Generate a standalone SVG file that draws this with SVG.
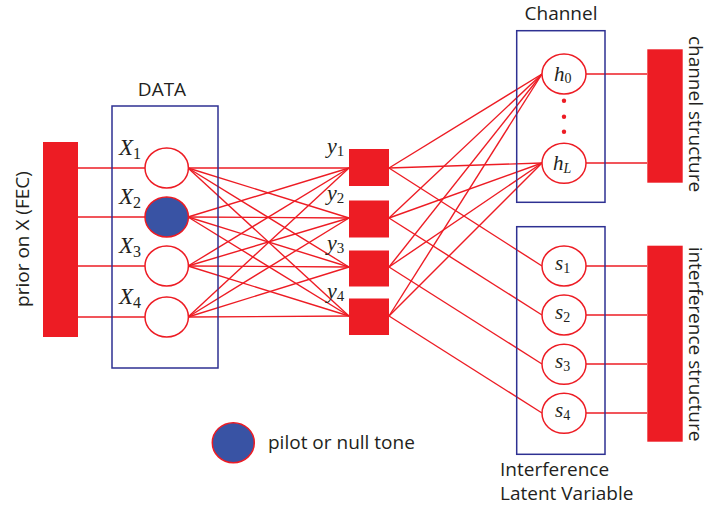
<svg xmlns="http://www.w3.org/2000/svg" width="710" height="510" viewBox="0 0 710 510">
<style>
.bar{fill:#ED1C24}
.box{fill:none;stroke:#2E3192;stroke-width:1.5}
.node{fill:#fff;stroke:#ED1C24;stroke-width:1.5}
.pilot{fill:#3953A4;stroke:#ED1C24;stroke-width:1.5}
.sq{fill:#ED1C24}
.lbl{font-family:"Open Sans","Liberation Sans",sans-serif;font-size:19px;fill:#231F20}
.math{font-family:"Liberation Serif","DejaVu Serif",serif;font-style:italic;fill:#231F20}
.sub{font-style:normal}
#connectors line{stroke:#ED1C24;stroke-width:1.4}
</style>
<rect width="710" height="510" fill="#fff"/>
<g id="connectors">
<line x1="78" y1="168" x2="145" y2="168"/>
<line x1="78" y1="217" x2="145" y2="217"/>
<line x1="78" y1="266" x2="145" y2="266"/>
<line x1="78" y1="317" x2="145" y2="317"/>
<line x1="188" y1="168" x2="349" y2="168"/>
<line x1="188" y1="168" x2="349" y2="218"/>
<line x1="188" y1="168" x2="349" y2="267"/>
<line x1="188" y1="168" x2="349" y2="316"/>
<line x1="188" y1="217" x2="349" y2="168"/>
<line x1="188" y1="217" x2="349" y2="218"/>
<line x1="188" y1="217" x2="349" y2="267"/>
<line x1="188" y1="217" x2="349" y2="316"/>
<line x1="188" y1="266" x2="349" y2="168"/>
<line x1="188" y1="266" x2="349" y2="218"/>
<line x1="188" y1="266" x2="349" y2="267"/>
<line x1="188" y1="266" x2="349" y2="316"/>
<line x1="188" y1="317" x2="349" y2="168"/>
<line x1="188" y1="317" x2="349" y2="218"/>
<line x1="188" y1="317" x2="349" y2="267"/>
<line x1="188" y1="317" x2="349" y2="316"/>
<line x1="389" y1="168" x2="542" y2="74"/>
<line x1="389" y1="168" x2="542" y2="163"/>
<line x1="389" y1="218" x2="542" y2="74"/>
<line x1="389" y1="218" x2="542" y2="163"/>
<line x1="389" y1="267" x2="542" y2="74"/>
<line x1="389" y1="267" x2="542" y2="163"/>
<line x1="389" y1="316" x2="542" y2="74"/>
<line x1="389" y1="316" x2="542" y2="163"/>
<line x1="389" y1="168" x2="542" y2="266"/>
<line x1="389" y1="218" x2="542" y2="315"/>
<line x1="389" y1="267" x2="542" y2="364"/>
<line x1="389" y1="316" x2="542" y2="413"/>
<line x1="586" y1="74" x2="647" y2="74"/>
<line x1="586" y1="163" x2="647" y2="163"/>
<line x1="586" y1="266" x2="647" y2="266"/>
<line x1="586" y1="315" x2="647" y2="315"/>
<line x1="586" y1="364" x2="647" y2="364"/>
<line x1="586" y1="413" x2="647" y2="413"/>
</g>
<g id="prior">
<rect class="bar" x="43" y="142" width="35" height="195"/>
<text class="lbl" transform="translate(29,239) rotate(-90)" text-anchor="middle">prior on X (FEC)</text>
</g>
<g id="data">
<rect class="box" x="112" y="106" width="106" height="262"/>
<text class="lbl" x="162" y="96" text-anchor="middle">DATA</text>
</g>
<g id="X1"><ellipse class="node" cx="166.7" cy="168" rx="21.7" ry="20"/><text class="math" x="119" y="155" font-size="23">X<tspan class="sub" font-size="16" dy="4">1</tspan></text></g>
<g id="X2"><ellipse class="pilot" cx="166.7" cy="217" rx="21.7" ry="20"/><text class="math" x="119" y="204" font-size="23">X<tspan class="sub" font-size="16" dy="4">2</tspan></text></g>
<g id="X3"><ellipse class="node" cx="166.7" cy="266" rx="21.7" ry="20"/><text class="math" x="119" y="253" font-size="23">X<tspan class="sub" font-size="16" dy="4">3</tspan></text></g>
<g id="X4"><ellipse class="node" cx="166.7" cy="317" rx="21.7" ry="20"/><text class="math" x="119" y="304" font-size="23">X<tspan class="sub" font-size="16" dy="4">4</tspan></text></g>
<g id="y1"><rect class="sq" x="349" y="149" width="40" height="37"/><text class="math" x="327" y="153" font-size="22">y<tspan class="sub" font-size="15" dy="3">1</tspan></text></g>
<g id="y2"><rect class="sq" x="349" y="200.5" width="40" height="37"/><text class="math" x="327" y="200" font-size="22">y<tspan class="sub" font-size="15" dy="3">2</tspan></text></g>
<g id="y3"><rect class="sq" x="349" y="250.5" width="40" height="36"/><text class="math" x="327" y="250" font-size="22">y<tspan class="sub" font-size="15" dy="3">3</tspan></text></g>
<g id="y4"><rect class="sq" x="349" y="298.5" width="40" height="36.5"/><text class="math" x="327" y="298" font-size="22">y<tspan class="sub" font-size="15" dy="3">4</tspan></text></g>
<g id="channel">
<rect class="box" x="516.7" y="30.7" width="88.3" height="171.6"/>
<text class="lbl" x="561" y="20" text-anchor="middle">Channel</text>
<circle cx="564" cy="100.7" r="2.2" fill="#ED1C24"/>
<circle cx="564" cy="116.7" r="2.2" fill="#ED1C24"/>
<circle cx="564" cy="131.7" r="2.2" fill="#ED1C24"/>
</g>
<g id="h0"><ellipse class="node" cx="564" cy="74" rx="22" ry="20"/><text class="math" x="554" y="81" font-size="21">h<tspan class="sub" font-size="14" dy="2">0</tspan></text></g>
<g id="hL"><ellipse class="node" cx="564" cy="163.3" rx="22" ry="20"/><text class="math" x="553" y="170" font-size="21">h<tspan font-size="14" dy="3">L</tspan></text></g>
<g id="channel-structure">
<rect class="bar" x="647.3" y="49.3" width="35.4" height="133.4"/>
<text class="lbl" transform="translate(689,114) rotate(90)" text-anchor="middle">channel structure</text>
</g>
<g id="interference">
<rect class="box" x="516.7" y="226.7" width="88.3" height="227.6"/>
<text class="lbl" x="500" y="476">Interference</text>
<text class="lbl" x="500" y="500">Latent Variable</text>
</g>
<g id="s1"><ellipse class="node" cx="564" cy="266" rx="22" ry="20"/><text class="math" x="555" y="270" font-size="21">s<tspan class="sub" font-size="14" dy="3">1</tspan></text></g>
<g id="s2"><ellipse class="node" cx="564" cy="315" rx="22" ry="20"/><text class="math" x="555" y="319" font-size="21">s<tspan class="sub" font-size="14" dy="3">2</tspan></text></g>
<g id="s3"><ellipse class="node" cx="564" cy="364.3" rx="22" ry="20"/><text class="math" x="555" y="368" font-size="21">s<tspan class="sub" font-size="14" dy="3">3</tspan></text></g>
<g id="s4"><ellipse class="node" cx="564" cy="413.3" rx="22" ry="20"/><text class="math" x="555" y="417" font-size="21">s<tspan class="sub" font-size="14" dy="3">4</tspan></text></g>
<g id="interference-structure">
<rect class="bar" x="647.3" y="245.7" width="35.4" height="196"/>
<text class="lbl" transform="translate(689,344) rotate(90)" text-anchor="middle">interference structure</text>
</g>
<g id="legend">
<ellipse class="pilot" cx="233.3" cy="442.7" rx="21" ry="20"/>
<text class="lbl" x="268" y="449">pilot or null tone</text>
</g>
</svg>
